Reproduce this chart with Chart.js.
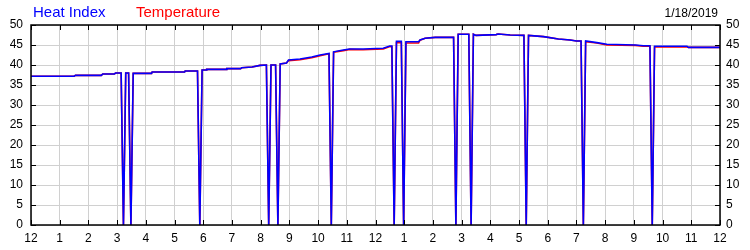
<!DOCTYPE html>
<html>
<head>
<meta charset="utf-8">
<script src="https://cdn.jsdelivr.net/npm/chart.js@4.4.0/dist/chart.umd.min.js"></script>
<style>
  body { margin: 0; background: #fff; }
  #wrap { width: 750px; height: 250px; }
</style>
</head>
<body>
<div id="wrap"><canvas id="main-chart" width="750" height="250"></canvas></div>
<script>
// hours since midnight
var times = [0, 1.5, 1.55, 2.45, 2.5, 2.9, 2.95, 3.14, 3.22, 3.3, 3.4, 3.48, 3.56, 4.2, 4.22, 5.35, 5.37, 5.8, 5.88, 5.96,
    6.1, 6.12, 6.8, 6.82, 7.3, 7.34, 7.7, 7.98, 8.2, 8.28, 8.36, 8.52, 8.6, 8.68, 8.9, 8.97, 9.37, 9.78, 10.07, 10.38,
    10.46, 10.54, 10.88, 11.1, 11.57, 12.27, 12.5, 12.57, 12.65, 12.73, 12.9, 12.98, 13.06, 13.5, 13.55, 13.73, 14.08, 14.72, 14.8, 14.88,
    15.25, 15.33, 15.41, 15.5, 16.2, 16.27, 16.69, 17.17, 17.25, 17.33, 17.85, 18.37, 18.78, 19.0, 19.16, 19.24, 19.32, 19.71, 20.06, 21.05,
    21.33, 21.56, 21.64, 21.72, 22.85, 22.9, 24];
var heatIndex = [37.2, 37.2, 37.4, 37.4, 37.75, 37.75, 38.0, 38.0, 0, 38.0, 38.0, 0, 37.9, 37.9, 38.25, 38.25, 38.5, 38.5, 0, 38.75,
    38.75, 38.9, 38.9, 39.1, 39.1, 39.3, 39.5, 39.9, 40.0, 0, 40.0, 40.0, 0, 40.25, 40.5, 41.25, 41.5, 42.0, 42.5, 42.9,
    0, 43.3, 43.75, 44.0, 44.0, 44.2, 44.75, 44.75, 0, 45.9, 45.9, 0, 45.8, 45.8, 46.25, 46.7, 46.9, 46.9, 0, 47.7,
    47.7, 0, 47.7, 47.4, 47.6, 47.75, 47.5, 47.4, 0, 47.4, 47.1, 46.5, 46.25, 46.0, 46.0, 0, 46.0, 45.6, 45.2, 45.0,
    44.8, 44.8, 0, 44.7, 44.7, 44.4, 44.4];
var temperature = [37.2, 37.2, 37.4, 37.4, 37.75, 37.75, 38.0, 38.0, 0, 38.0, 38.0, 0, 37.9, 37.9, 38.25, 38.25, 38.5, 38.5, 0, 38.75,
    38.75, 38.9, 38.9, 39.1, 39.1, 39.3, 39.5, 39.9, 40.0, 0, 40.0, 40.0, 0, 40.25, 40.5, 41.1, 41.3, 41.8, 42.3, 42.8,
    0, 43.2, 43.6, 43.9, 43.8, 44.0, 44.6, 44.6, 0, 45.6, 45.6, 0, 45.5, 45.5, 46.2, 46.7, 46.9, 46.9, 0, 47.7,
    47.7, 0, 47.7, 47.4, 47.6, 47.75, 47.5, 47.4, 0, 47.4, 47.1, 46.5, 46.25, 46.0, 46.0, 0, 45.8, 45.5, 45.0, 44.9,
    44.7, 44.7, 0, 44.5, 44.5, 44.4, 44.4];
var hourLabels = ['12', '1', '2', '3', '4', '5', '6', '7', '8', '9', '10', '11', '12', '1', '2', '3', '4', '5', '6', '7', '8', '9', '10', '11', '12'];
var dateText = '1/18/2019';

var fontName = '"Liberation Sans", Arial, sans-serif';

function toPoints(values) {
    var pts = [];
    for (var i = 0; i < times.length; i++) {
        pts.push({ x: times[i], y: values[i] });
    }
    return pts;
}

// header text + black frame + inward ticks
var framePlugin = {
    id: 'frame',
    afterDraw: function(chart) {
        var ctx = chart.ctx;
        var a = chart.chartArea;
        ctx.save();
        ctx.font = '15px ' + fontName;
        ctx.textBaseline = 'alphabetic';
        ctx.textAlign = 'left';
        ctx.fillStyle = '#0000ff';
        ctx.fillText('Heat Index', 33, 17);
        ctx.fillStyle = '#ff0000';
        ctx.fillText('Temperature', 136, 17);
        ctx.font = '12px ' + fontName;
        ctx.fillStyle = '#000';
        ctx.textAlign = 'right';
        ctx.fillText(dateText, 718, 17);

        ctx.strokeStyle = '#000';
        ctx.lineWidth = 1;
        ctx.beginPath();
        chart.scales.x.ticks.forEach(function(t) {
            var px = Math.round(chart.scales.x.getPixelForValue(t.value)) + 0.5;
            ctx.moveTo(px, a.top); ctx.lineTo(px, a.top + 5);
            ctx.moveTo(px, a.bottom); ctx.lineTo(px, a.bottom - 5);
        });
        chart.scales.y.ticks.forEach(function(t) {
            var py = Math.round(chart.scales.y.getPixelForValue(t.value)) + 0.5;
            ctx.moveTo(a.left, py); ctx.lineTo(a.left + 5, py);
            ctx.moveTo(a.right, py); ctx.lineTo(a.right - 5, py);
        });
        ctx.stroke();
        ctx.lineWidth = 1.5;
        ctx.strokeRect(a.left, a.top, a.right - a.left, a.bottom - a.top);
        ctx.restore();
    }
};

var yTicks = { color: '#000', font: { family: fontName, size: 12 }, stepSize: 5 };

var myChart = new Chart(document.querySelector('#main-chart').getContext('2d'), {
    type: 'line',
    data: {
        datasets: [{
            label: 'Heat Index',
            data: toPoints(heatIndex),
            borderColor: '#0000ff',
            borderWidth: 1.6,
            pointRadius: 0,
            tension: 0,
            order: 0
        }, {
            label: 'Temperature',
            data: toPoints(temperature),
            borderColor: '#ff0000',
            borderWidth: 1.6,
            pointRadius: 0,
            tension: 0,
            order: 1
        }]
    },
    options: {
        responsive: false,
        animation: false,
        layout: { padding: { top: 25, left: 0, right: 0, bottom: 0 } },
        plugins: { legend: { display: false }, tooltip: { enabled: false } },
        scales: {
            x: {
                type: 'linear',
                min: 0,
                max: 24,
                ticks: {
                    stepSize: 1,
                    color: '#000',
                    padding: 6,
                    maxRotation: 0,
                    autoSkip: false,
                    font: { family: fontName, size: 12 },
                    callback: function(v) { return hourLabels[v]; }
                },
                grid: { color: '#d0d0d0', drawTicks: false },
                border: { display: false },
                afterFit: function(s) { s.height = 25; }
            },
            y: {
                position: 'left',
                min: 0,
                max: 50,
                ticks: Object.assign({ padding: 8 }, yTicks),
                grid: { color: '#d0d0d0', drawTicks: false },
                border: { display: false },
                afterFit: function(s) { s.width = 31; }
            },
            y2: {
                position: 'right',
                min: 0,
                max: 50,
                ticks: Object.assign({ padding: 6 }, yTicks),
                grid: { display: false, drawTicks: false },
                border: { display: false },
                afterFit: function(s) { s.width = 30; }
            }
        }
    },
    plugins: [framePlugin]
});
</script>
</body>
</html>
